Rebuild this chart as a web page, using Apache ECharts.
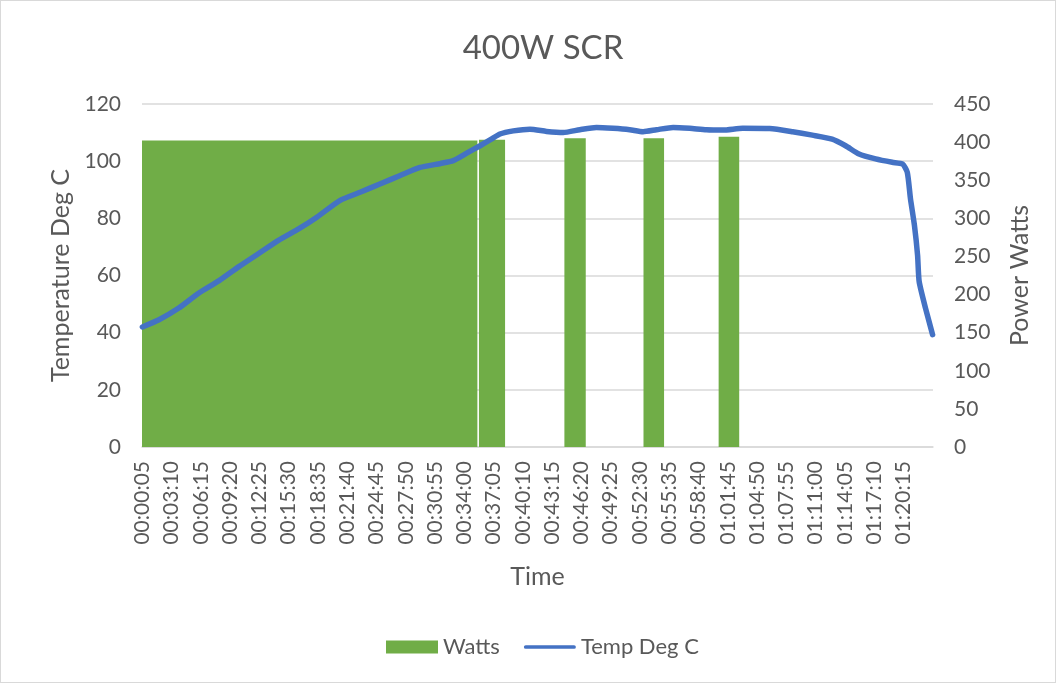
<!DOCTYPE html>
<html>
<head>
<meta charset="utf-8">
<script src="https://cdn.jsdelivr.net/npm/echarts@6/dist/echarts.min.js"></script>
<style>
    html, body { margin: 0; padding: 0; background: #fff; }
    #chart { width: 1056px; height: 683px; box-sizing: border-box; border: 1px solid #d9d9d9; }
</style>
</head>
<body>
<div id="chart"></div>
<script>
// samples: one reading every 5 s, first one at 00:00:05
let sampleStart = 5;
let sampleStep = 5;
let sampleCount = 1000;

// power: [first sample, last sample, watts] for each block where the heater was on
let powerBlocks = [
    [0, 423, 402],
    [426, 458, 403],
    [534, 560, 405],
    [634, 659, 405],
    [729, 754, 407]
];

// temperature readings (sample index -> deg C)
let tempSample = [0, 21, 46, 71, 97, 122, 147, 172, 198, 221, 250, 276, 301, 326, 351, 377, 393, 410, 427, 440,
    452, 469, 490, 511, 532, 553, 574, 595, 616, 633, 650, 671, 692, 713, 734, 759, 793, 822, 847, 872,
    889, 906, 927, 948, 961, 967, 971, 976, 980, 982, 990, 999];
let tempDeg = [42.0, 44.5, 48.6, 53.8, 58.2, 63.1, 67.7, 72.3, 76.4, 80.5, 86.3, 89.2, 92.1, 95.0, 97.8, 99.2, 100.2, 102.8, 105.4, 107.5,
    109.5, 110.6, 111.2, 110.4, 110.0, 111.0, 111.8, 111.5, 111.0, 110.3, 111.0, 111.8, 111.5, 111.0, 110.9, 111.5, 111.4, 110.3, 109.1, 107.7,
    105.4, 102.5, 100.8, 99.6, 99.0, 96.1, 86.9, 77.6, 67.1, 57.9, 48.6, 39.3];

let tempTicks = [0, 120, 20];
let powerTicks = [0, 450, 50];

function pad(n) {
    return (n < 10 ? '0' : '') + n;
}
function fmtTime(s) {
    return pad(Math.floor(s / 3600)) + ':' + pad(Math.floor(s / 60) % 60) + ':' + pad(s % 60);
}

let xData = [];
for (let i = 0; i < sampleCount; i++) {
    xData.push(fmtTime(sampleStart + i * sampleStep));
}
let tempData = tempSample.map(function (s, i) {
    return [s, tempDeg[i]];
});

let textColor = '#595959';
let fontName = 'Lato';

function renderPower(params, api) {
    let top = api.coord([api.value(0), api.value(2)]);
    let end = api.coord([api.value(1), 0]);
    let bw = api.size([1, 0])[0];
    return {
        type: 'rect',
        shape: {
            x: top[0] - bw / 2,
            y: top[1],
            width: end[0] - top[0] + bw,
            height: end[1] - top[1]
        },
        style: { fill: '#70ad47' }
    };
}

let chart = echarts.init(document.getElementById('chart'));
let option = {
    animation: false,
    backgroundColor: '#fff',
    textStyle: { fontFamily: fontName },
    title: {
        text: '400W SCR',
        left: 537,
        textAlign: 'center',
        top: 26,
        textStyle: { color: textColor, fontSize: 33, fontWeight: 'normal', fontFamily: fontName }
    },
    legend: {
        bottom: 19,
        left: 380,
        itemWidth: 52,
        itemHeight: 13,
        itemGap: 24,
        textStyle: { color: textColor, fontSize: 22, fontFamily: fontName },
        data: [
            { name: 'Watts', icon: 'rect' },
            { name: 'Temp Deg C', icon: 'path://M2,0 L54,0 A2,2 0 0 1 54,4 L2,4 A2,2 0 0 1 2,0 Z' }
        ]
    },
    grid: {
        left: 141,
        right: 122,
        top: 103,
        bottom: 235
    },
    xAxis: {
        type: 'category',
        data: xData,
        boundaryGap: true,
        name: 'Time',
        nameLocation: 'middle',
        nameGap: 117,
        nameTextStyle: { color: textColor, fontSize: 25, fontFamily: fontName, verticalAlign: 'top' },
        axisLine: { lineStyle: { color: '#d9d9d9', width: 1.5 } },
        axisTick: { show: false },
        axisLabel: {
            interval: 36,
            rotate: 90,
            margin: 14,
            showMaxLabel: false,
            color: textColor,
            fontSize: 21,
            fontFamily: fontName
        }
    },
    yAxis: [{
            type: 'value',
            min: tempTicks[0],
            max: tempTicks[1],
            interval: tempTicks[2],
            name: 'Temperature Deg C',
            nameLocation: 'middle',
            nameGap: 69,
            nameTextStyle: { color: textColor, fontSize: 25, fontFamily: fontName },
            axisLine: { show: false },
            axisTick: { show: false },
            axisLabel: { margin: 21, color: textColor, fontSize: 21, fontFamily: fontName },
            splitLine: { lineStyle: { color: '#d9d9d9', width: 1.5 } }
        },
        {
            type: 'value',
            min: powerTicks[0],
            max: powerTicks[1],
            interval: powerTicks[2],
            name: 'Power Watts',
            nameLocation: 'middle',
            nameRotate: 90,
            nameGap: 74,
            nameTextStyle: { color: textColor, fontSize: 25, fontFamily: fontName },
            axisLine: { show: false },
            axisTick: { show: false },
            axisLabel: { margin: 21, color: textColor, fontSize: 21, fontFamily: fontName },
            splitLine: { show: false }
        }
    ],
    series: [{
            name: 'Watts',
            type: 'custom',
            xAxisIndex: 0,
            yAxisIndex: 1,
            itemStyle: { color: '#70ad47' },
            encode: { x: [0, 1], y: 2 },
            renderItem: renderPower,
            data: powerBlocks,
            z: 1
        },
        {
            name: 'Temp Deg C',
            type: 'line',
            xAxisIndex: 0,
            yAxisIndex: 0,
            symbol: 'none',
            smooth: 0.2,
            itemStyle: { color: '#4472c4' },
            lineStyle: { color: '#4472c4', width: 5.5, cap: 'round', join: 'round' },
            data: tempData,
            z: 3
        }
    ]
};
chart.setOption(option);
</script>
</body>
</html>
